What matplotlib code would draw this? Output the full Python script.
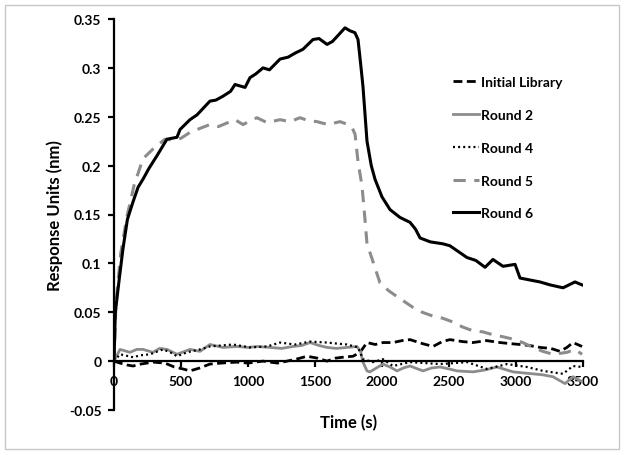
import matplotlib
matplotlib.use('Agg')
import matplotlib.pyplot as plt
from matplotlib.patches import Rectangle
from matplotlib.ticker import FuncFormatter

matplotlib.rcParams['font.family'] = ['Lato', 'DejaVu Sans']
matplotlib.rcParams['font.weight'] = 'bold'

# Initial Library (black dashed)
t_lib = [0, 45, 100, 142, 200, 291, 380, 450, 515, 567, 640, 716, 800, 918, 1000, 1112,
         1164, 1220, 1291, 1360, 1440, 1520, 1590, 1650, 1709, 1784, 1836, 1888, 1950,
         2007, 2082, 2150, 2209, 2300, 2381, 2450, 2507, 2600, 2679, 2780, 2881, 2950,
         3030, 3100, 3179, 3260, 3328, 3380, 3425, 3493]
v_lib = [0.0, -0.002, -0.004, -0.005, -0.003, -0.001, -0.002, -0.006, -0.008, -0.010,
         -0.007, -0.003, -0.002, -0.001, -0.002, 0.0, -0.001, -0.002, 0.0, 0.002, 0.005,
         0.003, 0.0, 0.003, 0.004, 0.005, 0.009, 0.019, 0.017, 0.019, 0.019, 0.021, 0.022,
         0.018, 0.015, 0.020, 0.022, 0.020, 0.019, 0.021, 0.019, 0.018, 0.017, 0.016,
         0.014, 0.013, 0.010, 0.014, 0.019, 0.015]

# Round 2 (gray solid)
t_r2 = [0, 45, 119, 170, 216, 291, 340, 395, 470, 567, 642, 716, 813, 918, 1000, 1067,
        1164, 1250, 1336, 1400, 1463, 1530, 1590, 1660, 1739, 1813, 1840, 1858, 1888,
        1910, 2007, 2060, 2112, 2160, 2209, 2306, 2370, 2433, 2500, 2560, 2679, 2770,
        2858, 2978, 3050, 3127, 3200, 3276, 3366, 3425, 3493]
v_r2 = [0.0, 0.012, 0.009, 0.012, 0.012, 0.009, 0.013, 0.012, 0.007, 0.012, 0.010,
        0.017, 0.014, 0.015, 0.014, 0.015, 0.014, 0.013, 0.015, 0.016, 0.019, 0.016,
        0.014, 0.013, 0.014, 0.015, 0.010, -0.001, -0.010, -0.011, -0.003, -0.006,
        -0.010, -0.007, -0.005, -0.010, -0.007, -0.006, -0.008, -0.010, -0.011, -0.009,
        -0.006, -0.011, -0.012, -0.013, -0.014, -0.016, -0.023, -0.016, -0.021]

# Round 4 (black dotted)
t_r4 = [0, 45, 142, 200, 269, 365, 420, 470, 545, 642, 716, 800, 888, 1015, 1142, 1239,
        1350, 1463, 1590, 1660, 1739, 1821, 1858, 1933, 2007, 2082, 2209, 2320, 2433,
        2540, 2634, 2784, 2933, 3082, 3201, 3351, 3425, 3493]
v_r4 = [0.0, 0.007, 0.004, 0.006, 0.007, 0.012, 0.009, 0.005, 0.009, 0.012, 0.015,
        0.016, 0.017, 0.014, 0.015, 0.019, 0.017, 0.020, 0.019, 0.018, 0.017, 0.014,
        0.002, -0.001, 0.002, -0.005, -0.001, -0.002, -0.003, -0.002, -0.001, -0.008,
        -0.003, -0.006, -0.010, -0.013, -0.005, -0.006]

# Round 5 (gray dashed)
t_r5 = [0, 15, 50, 97, 150, 216, 291, 380, 450, 500, 567, 640, 716, 780, 850, 903, 963,
        1020, 1067, 1142, 1239, 1313, 1388, 1450, 1515, 1597, 1687, 1746, 1780, 1799,
        1821, 1851, 1873, 1888, 1925, 1985, 2050, 2112, 2231, 2300, 2381, 2450, 2530,
        2600, 2679, 2750, 2828, 2900, 2978, 3050, 3127, 3200, 3276, 3330, 3380, 3440,
        3493]
v_r5 = [0.0, 0.060, 0.110, 0.148, 0.180, 0.207, 0.217, 0.227, 0.226, 0.228, 0.234,
        0.238, 0.242, 0.240, 0.244, 0.247, 0.242, 0.246, 0.249, 0.244, 0.247, 0.245,
        0.249, 0.246, 0.245, 0.242, 0.245, 0.242, 0.238, 0.232, 0.204, 0.179, 0.145,
        0.120, 0.105, 0.080, 0.072, 0.066, 0.055, 0.050, 0.046, 0.044, 0.040, 0.035,
        0.031, 0.030, 0.027, 0.025, 0.0225, 0.019, 0.014, 0.010, 0.007, 0.008, 0.009,
        0.012, 0.007]

# Round 6 (black solid)
t_r6 = [0, 10, 40, 67, 100, 142, 180, 216, 260, 320, 395, 470, 493, 567, 620, 716, 760,
        813, 870, 903, 978, 1015, 1060, 1112, 1160, 1239, 1300, 1350, 1410, 1485, 1530,
        1590, 1630, 1664, 1724, 1760, 1798, 1821, 1840, 1858, 1888, 1920, 1948, 2000,
        2060, 2134, 2209, 2250, 2284, 2360, 2455, 2507, 2634, 2700, 2769, 2828, 2903,
        2993, 3030, 3104, 3179, 3254, 3351, 3440, 3493]
v_r6 = [0.0, 0.050, 0.085, 0.115, 0.145, 0.163, 0.178, 0.186, 0.197, 0.210, 0.227,
        0.229, 0.237, 0.247, 0.252, 0.266, 0.267, 0.271, 0.276, 0.283, 0.280, 0.290,
        0.294, 0.300, 0.298, 0.309, 0.311, 0.315, 0.319, 0.329, 0.330, 0.324, 0.327,
        0.332, 0.341, 0.338, 0.336, 0.329, 0.305, 0.281, 0.225, 0.200, 0.186, 0.168,
        0.155, 0.147, 0.142, 0.135, 0.126, 0.122, 0.120, 0.118, 0.106, 0.103, 0.096,
        0.104, 0.097, 0.099, 0.085, 0.083, 0.081, 0.078, 0.075, 0.081, 0.078]

x_ticks = [0, 500, 1000, 1500, 2000, 2500, 3000, 3500]
y_ticks = [-0.05, 0, 0.05, 0.1, 0.15, 0.2, 0.25, 0.3, 0.35]

GRAY = '#8c8c8c'

fig = plt.figure(figsize=(6.24, 4.56), dpi=100)
ax = fig.add_axes([114 / 624, 1 - 411 / 456, 469 / 624, 391 / 456])

# light border round the whole chart, Excel style
fig.patches.append(Rectangle((5 / 624, 6 / 456), 614 / 624, 444 / 456,
                             transform=fig.transFigure, fill=False,
                             edgecolor='#c8c8c8', linewidth=1))

ax.plot(t_lib, v_lib, color='black', linewidth=2.0, dashes=(3.2, 1.6), label='Initial Library')
ax.plot(t_r2, v_r2, color=GRAY, linewidth=2.0, label='Round 2')
ax.plot(t_r4, v_r4, color='black', linewidth=1.6, dashes=(0.9, 1.4), label='Round 4')
ax.plot(t_r5, v_r5, color=GRAY, linewidth=2.2, dashes=(4, 2.8), label='Round 5')
ax.plot(t_r6, v_r6, color='black', linewidth=2.2, label='Round 6')

ax.set_xlim(0, 3500)
ax.set_ylim(-0.05, 0.35)
ax.set_xticks(x_ticks)
ax.set_yticks(y_ticks)
ax.yaxis.set_major_formatter(FuncFormatter(lambda v, p: '%g' % round(v, 3)))

ax.spines['top'].set_visible(False)
ax.spines['right'].set_visible(False)
ax.spines['bottom'].set_position(('data', 0))
ax.spines['left'].set_linewidth(1.6)
ax.spines['bottom'].set_linewidth(1.6)
ax.tick_params(axis='both', direction='out', length=4, width=1.6, labelsize=10)
ax.tick_params(axis='y', pad=5)
ax.tick_params(axis='x', pad=6)
for lbl in ax.get_xticklabels() + ax.get_yticklabels():
    lbl.set_fontweight('bold')

ax.set_xlabel('Time (s)', fontsize=12, fontweight='bold')
ax.xaxis.set_label_coords(0.5, -0.01)
ax.set_ylabel('Response Units (nm)', fontsize=12, fontweight='bold')
ax.yaxis.set_label_coords(-0.108, 0.5)

ax.legend(loc='upper left', bbox_to_anchor=(453 / 624, 1 - 77 / 456),
          bbox_transform=fig.transFigure, frameon=False, fontsize=10,
          handlelength=1.9, handletextpad=0.1, labelspacing=1.5,
          borderaxespad=0, borderpad=0)

plt.savefig('out.png', dpi=100)
plt.close()
